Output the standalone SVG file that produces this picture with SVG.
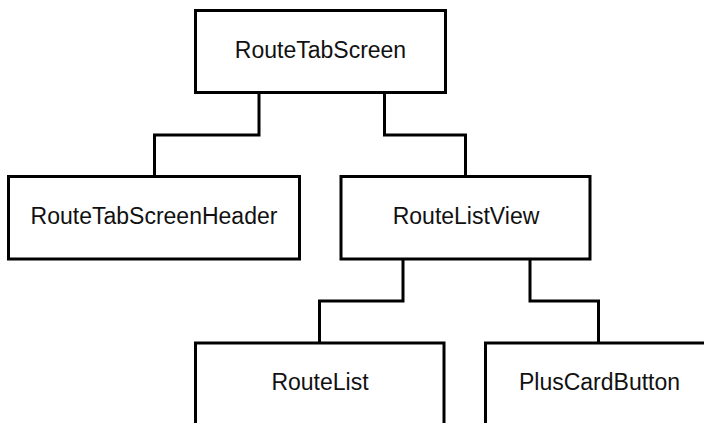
<svg xmlns="http://www.w3.org/2000/svg" width="704" height="423" viewBox="0 0 704 423">
  <style>
    .box { fill: #ffffff; stroke: #000000; stroke-width: 3; }
    .wire { fill: none; stroke: #000000; stroke-width: 3; stroke-linejoin: miter; }
    .label { font-family: "Liberation Sans", Arial, sans-serif; font-size: 23px; fill: #111111; text-anchor: middle; }
  </style>
  <rect width="704" height="423" fill="#ffffff"/>

  <g id="connectors">
    <polyline class="wire" points="259,93 259,135 154.5,135 154.5,176"/>
    <polyline class="wire" points="384.5,93 384.5,135 465.5,135 465.5,176"/>
    <polyline class="wire" points="403,259 403,301 319.5,301 319.5,343"/>
    <polyline class="wire" points="530,259 530,301 598.5,301 598.5,343"/>
  </g>

  <g id="route-tab-screen">
    <rect class="box" x="195.5" y="10.5" width="250" height="82"/>
    <text class="label" x="320.5" y="57.5">RouteTabScreen</text>
  </g>

  <g id="route-tab-screen-header">
    <rect class="box" x="8.5" y="176.5" width="291" height="82.5"/>
    <text class="label" x="154" y="223.5">RouteTabScreenHeader</text>
  </g>

  <g id="route-list-view">
    <rect class="box" x="341" y="176.5" width="249" height="82.5"/>
    <text class="label" x="466" y="223.5">RouteListView</text>
  </g>

  <g id="route-list">
    <rect class="box" x="195.5" y="343" width="248.5" height="100"/>
    <text class="label" x="320" y="389.5">RouteList</text>
  </g>

  <g id="plus-card-button">
    <rect class="box" x="485.5" y="343" width="228" height="100"/>
    <text class="label" x="599.5" y="389.5">PlusCardButton</text>
  </g>
</svg>
